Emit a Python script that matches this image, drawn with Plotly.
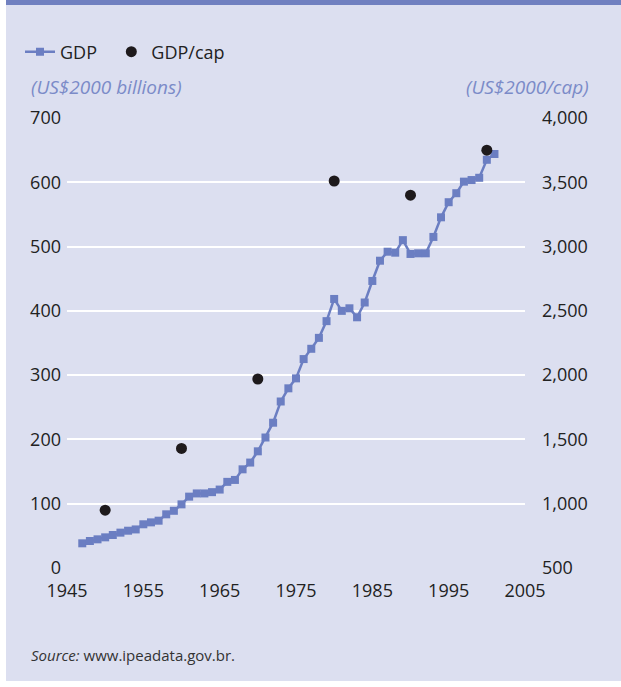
import plotly.graph_objects as go

years = list(range(1947, 2002))
gdp = [38.4, 42, 44.6, 47.7, 51.3, 55, 58, 60, 68, 71,
       73.6, 83.5, 89, 99, 111, 116, 116, 118, 122, 134,
       137, 153.5, 164, 181.5, 203, 226, 259, 279.5, 295, 325,
       341, 358, 384, 418.5, 400, 404, 390, 413, 446.5, 478,
       492, 490.5, 510, 488.5, 489.5, 489.5, 515, 545.5, 569, 583,
       601, 603.5, 607, 635, 644]
cap_years = [1950, 1960, 1970, 1980, 1990, 2000]
gdp_cap = [950, 1430, 1970, 3510, 3400, 3750]

left_ticks = [0, 100, 200, 300, 400, 500, 600, 700]
right_ticks = [500, 1000, 1500, 2000, 2500, 3000, 3500, 4000]
x_ticks = [1945, 1955, 1965, 1975, 1985, 1995, 2005]

W, H = 621, 687
L, R, T, B = 67, 96, 118, 119
pw, ph = W - L - R, H - T - B

def px(x):
    return (x - L) / pw

def py(y):
    return (H - B - y) / ph

bg = "#dcdff0"
blue = "#6b7ec2"
font = "Open Sans"

fig = go.Figure()
fig.add_trace(go.Scatter(
    x=years, y=gdp, name="GDP\u00a0\u00a0", mode="lines+markers",
    line=dict(color=blue, width=2.5),
    marker=dict(symbol="square", size=8, color=blue),
))
fig.add_trace(go.Scatter(
    x=cap_years, y=gdp_cap, name="GDP/cap", mode="markers", yaxis="y2",
    marker=dict(symbol="circle", size=11, color="#1e1a1c"),
))

# panel, top bar
fig.add_shape(type="rect", xref="paper", yref="paper", x0=px(6), x1=px(W),
              y0=py(681), y1=py(0), fillcolor=bg, line_width=0, layer="below")
fig.add_shape(type="rect", xref="paper", yref="paper", x0=px(6), x1=px(W),
              y0=py(5), y1=py(0), fillcolor="#7080c0", line_width=0, layer="below")

fig.add_annotation(text="<i>(US$2000 billions)</i>", xref="paper", yref="paper",
                   x=px(29), y=py(87), xanchor="left", yanchor="middle", showarrow=False,
                   font=dict(family=font, size=19, color="#7b8bc8"))
fig.add_annotation(text="<i>(US$2000/cap)</i>", xref="paper", yref="paper",
                   x=px(591), y=py(87), xanchor="right", yanchor="middle", showarrow=False,
                   font=dict(family=font, size=19, color="#7b8bc8"))
fig.add_annotation(text="<i>Source:</i> www.ipeadata.gov.br.", xref="paper", yref="paper",
                   x=px(29), y=py(655), xanchor="left", yanchor="middle", showarrow=False,
                   font=dict(family=font, size=15, color="#333333"))

fig.update_layout(
    width=W, height=H,
    margin=dict(l=L, r=R, t=T, b=B),
    paper_bgcolor="white", plot_bgcolor=bg,
    font=dict(family=font, size=18, color="#222222"),
    showlegend=True,
    legend=dict(orientation="h", x=px(20), y=py(52), xanchor="left", yanchor="middle",
                bgcolor="rgba(0,0,0,0)", font=dict(size=18, color="#222222"),
                itemwidth=30),
    xaxis=dict(range=[1945, 2005], tickvals=x_ticks, showgrid=False, zeroline=False,
               showline=False, ticks="", ticklabelstandoff=10),
    yaxis=dict(range=[0, 700], tickvals=left_ticks, showgrid=True, gridcolor="white",
               gridwidth=2, zeroline=False, showline=False, ticks="", ticklabelstandoff=5),
    yaxis2=dict(range=[500, 4000], tickvals=right_ticks, overlaying="y", side="right",
                showgrid=False, zeroline=False, showline=False, ticks="",
                tickformat=",", ticklabelstandoff=16),
)

fig.write_html("out.html", config={"displayModeBar": False},
               post_script="document.body.style.margin='0';")
